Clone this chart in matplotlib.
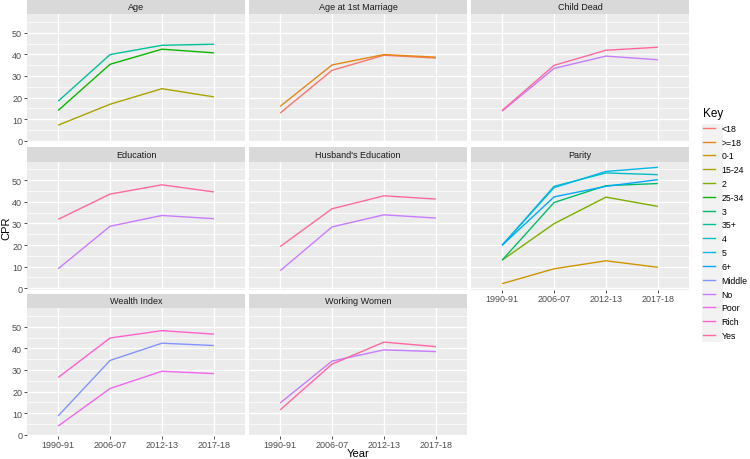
import matplotlib
matplotlib.use("Agg")
import matplotlib.pyplot as plt
from matplotlib.lines import Line2D
from matplotlib.patches import Rectangle

plt.rcParams['font.family'] = ['Liberation Sans', 'DejaVu Sans']

years = ["1990-91", "2006-07", "2012-13", "2017-18"]

# legend levels (ggplot hue palette, 16 levels)
keys = ["<18", ">=18", "0-1", "15-24", "2", "25-34", "3", "35+", "4", "5", "6+",
        "Middle", "No", "Poor", "Rich", "Yes"]
key_colors = ["#F8766D", "#E68613", "#CD9600", "#ABA300", "#7CAE00", "#0CB702",
              "#00BE67", "#00C19A", "#00BFC4", "#00B8E7", "#00A9FF", "#8494FF",
              "#C77CFF", "#ED68ED", "#FF61CC", "#FF68A1"]

# CPR values per facet
age_groups = ["15-24", "25-34", "35+"]
age_cpr = [[7.2, 16.9, 24.1, 20.3],
           [14.0, 35.4, 42.4, 40.7],
           [18.3, 39.9, 44.2, 44.7]]

marriage_groups = ["<18", ">=18"]
marriage_cpr = [[12.8, 32.6, 39.6, 38.3],
                [15.9, 35.1, 39.9, 38.7]]

child_groups = ["No", "Yes"]
child_cpr = [[13.7, 33.5, 39.2, 37.5],
             [14.0, 34.9, 41.9, 43.3]]

edu_groups = ["No", "Yes"]
edu_cpr = [[9.0, 28.7, 33.7, 32.2],
           [31.9, 43.6, 47.9, 44.6]]

husb_groups = ["No", "Yes"]
husb_cpr = [[8.1, 28.4, 34.0, 32.5],
            [19.3, 36.8, 42.8, 41.3]]

parity_groups = ["0-1", "2", "3", "4", "5", "6+"]
parity_cpr = [[2.1, 9.0, 12.7, 9.7],
              [13.0, 29.9, 42.2, 37.9],
              [13.0, 39.7, 47.5, 48.5],
              [19.9, 47.2, 53.4, 52.6],
              [19.9, 46.6, 54.1, 56.0],
              [19.9, 42.3, 47.2, 50.3]]

wealth_groups = ["Middle", "Poor", "Rich"]
wealth_cpr = [[8.7, 34.4, 42.4, 41.3],
              [4.0, 21.4, 29.4, 28.3],
              [26.5, 44.8, 48.2, 46.6]]

work_groups = ["No", "Yes"]
work_cpr = [[14.7, 34.1, 39.3, 38.5],
            [11.5, 32.7, 42.9, 40.8]]

facets = [("Age", age_groups, age_cpr),
          ("Age at 1st Marriage", marriage_groups, marriage_cpr),
          ("Child Dead", child_groups, child_cpr),
          ("Education", edu_groups, edu_cpr),
          ("Husband's Education", husb_groups, husb_cpr),
          ("Parity", parity_groups, parity_cpr),
          ("Wealth Index", wealth_groups, wealth_cpr),
          ("Working Women", work_groups, work_cpr)]

color_of = dict(zip(keys, key_colors))

W, H = 750, 460
fig = plt.figure(figsize=(7.5, 4.6), dpi=100)

col_x = [27, 249, 471]
pw = 218
row_top = [15, 162.5, 309]
ph = 128
strip_h = 14.5

def px(x0, y0, w, h):
    return [x0 / W, 1 - (y0 + h) / H, w / W, h / H]

tick_col = "#4D4D4D"
for i, (title, groups, vals) in enumerate(facets):
    r, c = divmod(i, 3)
    ax = fig.add_axes(px(col_x[c], row_top[r], pw, ph))
    ax.set_facecolor("#EBEBEB")
    for g, v in zip(groups, vals):
        ax.plot(range(len(years)), v, color=color_of[g], lw=1.0, solid_capstyle='butt')
    ax.set_xlim(-0.6, 3.6)
    ax.set_ylim(-0.6, 58.7)
    ax.set_yticks([0, 10, 20, 30, 40, 50])
    ax.set_yticks([5, 15, 25, 35, 45, 55], minor=True)
    ax.set_xticks(range(len(years)))
    ax.set_xticklabels(years)
    ax.grid(True, which='major', color='white', lw=1.0)
    ax.grid(True, which='minor', axis='y', color='white', lw=0.5)
    ax.set_axisbelow(True)
    for s in ax.spines.values():
        s.set_visible(False)
    ax.tick_params(axis='both', which='major', length=2.5, width=0.6, color='#333333',
                   labelsize=6.5, labelcolor=tick_col, pad=1.0)
    ax.tick_params(axis='x', which='major', pad=0.5)
    ax.tick_params(axis='both', which='minor', length=0)
    if c != 0:
        ax.tick_params(axis='y', left=False, labelleft=False)
    bottom = (r == 2) or (i == 5)
    if not bottom:
        ax.tick_params(axis='x', bottom=False, labelbottom=False)

    sax = fig.add_axes(px(col_x[c], row_top[r] - strip_h, pw, strip_h))
    sax.set_facecolor("#D9D9D9")
    sax.set_xticks([])
    sax.set_yticks([])
    for s in sax.spines.values():
        s.set_visible(False)
    sax.text(0.5, 0.5, title, ha='center', va='center', fontsize=6.5,
             color='#1A1A1A', transform=sax.transAxes)

fig.text(6 / W, 1 - 228 / H, "CPR", rotation=90, ha='center', va='center',
         fontsize=8, color='black')
fig.text(358 / W, 1 - 454 / H, "Year", ha='center', va='center',
         fontsize=8, color='black')

# legend key background
fig.patches.append(Rectangle((702 / W, 1 - 343 / H), 21 / W, 218 / H,
                             transform=fig.transFigure, facecolor="#F2F2F2",
                             edgecolor='none', zorder=0))
handles = [Line2D([0], [0], color=col, lw=1.0) for col in key_colors]
leg = fig.legend(handles, keys, loc='upper left',
                 bbox_to_anchor=(703 / W, 1 - 108 / H), frameon=False,
                 title="Key", fontsize=6.3, title_fontsize=8.5,
                 handlelength=1.4, handletextpad=0.7, labelspacing=0.55,
                 borderaxespad=0, borderpad=0)
leg._legend_box.align = "left"

fig.savefig("out.png", dpi=100)
